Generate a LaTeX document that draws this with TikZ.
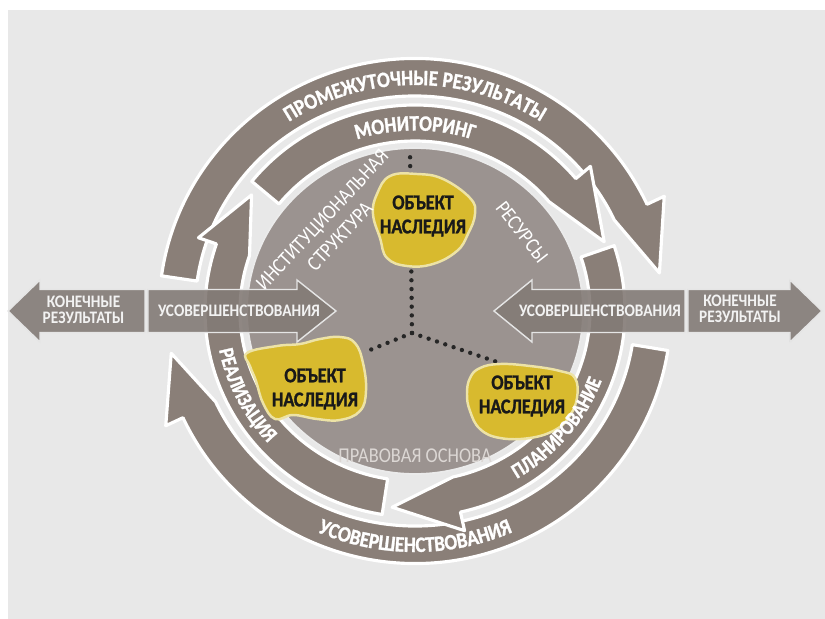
\documentclass[tikz,border=0pt]{standalone}
\usepackage{fontspec}
\setmainfont{Carlito}
\newfontfamily\narrowface{Carlito}[FakeStretch=0.87]
\newfontfamily\heavyface{Carlito}[FakeStretch=0.86, FakeBold=1.2]
\usepackage{tikz}
\usetikzlibrary{decorations.text}
\definecolor{ring1}{HTML}{8A7F78}
\definecolor{disc1}{HTML}{9B9390}
\definecolor{arrow1}{HTML}{837B76}
\definecolor{gold1}{HTML}{D8BA2E}
\definecolor{gold2}{HTML}{EDE3A6}
\definecolor{back1}{HTML}{E8E8E8}
\definecolor{base1}{HTML}{DCD7D4}

\newcommand{\ringfont}{\fontsize{12.5}{14}\heavyface\bfseries\color{white}}
\newcommand{\cyclefont}{\fontsize{12}{14}\heavyface\bfseries\color{white}}

% band of a ring with its head: start, head base, tip, inner x, inner y, outer x, outer y
\newcommand{\ringarrow}[7]{%
  \filldraw[bandarrow] (#1:#4 and #5) arc[start angle=#1, end angle=#2, x radius=#4, y radius=#5]
    -- (#3:{(#4+#6+0.38)/2} and {(#5+#7+0.38)/2})
    -- (#2:{#6+0.38} and {#7+0.38}) -- (#2:#6 and #7)
    arc[start angle=#2, end angle=#1, x radius=#6, y radius=#7] -- cycle;}

\begin{document}
\begin{tikzpicture}[
    bandarrow/.style={fill=ring1, draw=white, line width=1.8pt, line join=round},
    flatarrow/.style={fill=arrow1, fill opacity=0.9, draw=white!90!black, line width=0.8pt},
    blob/.style={fill=gold1, draw=gold2, line width=1.4pt},
    dots/.style={line width=2.5pt, line cap=round, dash pattern=on 0pt off 5pt, black!85},
    objtext/.style={font=\fontsize{12}{13.7}\heavyface\bfseries, align=center, text=black!90},
    disctext/.style={font=\fontsize{12}{13.7}\narrowface, align=center, text=white},
    armtext/.style={font=\fontsize{10}{9.3}\narrowface\bfseries, align=center, text=white!95!black}]

    \useasboundingbox (-8.3,6.22) rectangle (8.2,-6.16);
    \fill[back1] (-8.14,6.02) rectangle (8.2,-6.16);

    % Draw the outer ring
    \ringarrow{172}{25}{9}{4.4}{4.3}{5.12}{5.05}
    \ringarrow{-9}{-155}{-170}{4.4}{4.3}{5.12}{5.05}

    % Draw the middle ring
    \ringarrow{141}{40}{20.5}{3.5}{3.4}{4.2}{4.12}
    \ringarrow{18.5}{-77.5}{-96.5}{3.5}{3.4}{4.2}{4.12}
    \ringarrow{-99}{-199}{-216}{3.5}{3.4}{4.2}{4.12}

    % Draw the disc
    \filldraw[fill=disc1, draw=white!92!black, line width=1pt] (0,0) ellipse (3.36 and 3.26);

    % Dotted spokes
    \coordinate (hub) at (-0.06,-0.44);
    \coordinate (dtop) at (-0.1,3.24);
    \coordinate (dleft) at (-1.0,-0.82);
    \coordinate (dright) at (1.7,-1.04);
    \draw[dots] (hub) -- (dtop);
    \draw[dots] (hub) -- (dleft);
    \draw[dots] (hub) -- (dright);

    % Heritage objects
    \filldraw[blob] plot[smooth cycle, tension=0.7] coordinates {(-0.5,2.7) (0.04,2.74) (0.56,2.64)
      (1.1,2.26) (1.2,1.94) (1.06,1.54) (0.84,1.2) (0.36,0.94) (-0.16,0.9) (-0.56,1.06)
      (-0.7,1.46) (-0.84,1.94) (-0.76,2.34)};
    \filldraw[blob] plot[smooth cycle, tension=0.7] coordinates {(-3.36,-0.84) (-2.76,-0.7)
      (-2.3,-0.66) (-1.9,-0.56) (-1.5,-0.52) (-1.2,-0.64) (-1.04,-1.04) (-0.98,-1.6)
      (-1.1,-2.0) (-1.5,-2.18) (-1.96,-2.16) (-2.44,-2.08) (-2.8,-2.16) (-3.04,-1.84)
      (-3.18,-1.4) (-3.3,-1.1)};
    \filldraw[blob] plot[smooth cycle, tension=0.7] coordinates {(1.1,-1.34) (1.3,-1.14)
      (1.7,-1.06) (2.3,-1.1) (2.9,-1.2) (3.2,-1.34) (3.24,-1.74) (3.08,-2.12) (2.8,-2.38)
      (2.3,-2.54) (1.7,-2.54) (1.3,-2.36) (1.1,-2.0) (1.04,-1.66)};
    \node[objtext] (obj1) at (0.16,1.9) {ОБЪЕКТ\\НАСЛЕДИЯ};
    \node[objtext] (obj2) at (-2.0,-1.56) {ОБЪЕКТ\\НАСЛЕДИЯ};
    \node[objtext] (obj3) at (2.14,-1.7) {ОБЪЕКТ\\НАСЛЕДИЯ};

    % Labels inside the disc
    \node[disctext, rotate=47] (inst) at (-1.68,1.66) {ИНСТИТУЦИОНАЛЬНАЯ\\СТРУКТУРА};
    \node[disctext, rotate=-52] (res) at (2.14,1.58) {РЕСУРСЫ};
    \node[disctext, text=base1] (base) at (0,-2.9) {ПРАВОВАЯ ОСНОВА};

    % Labels along the rings
    \path[decorate, decoration={text along path, text align=center,
        text={|\ringfont|ПРОМЕЖУТОЧНЫЕ РЕЗУЛЬТАТЫ}}]
      (180:4.6 and 4.52) arc[start angle=180, end angle=0, x radius=4.6, y radius=4.52];
    \path[decorate, decoration={text along path, text align=center,
        text={|\ringfont|УСОВЕРШЕНСТВОВАНИЯ}}]
      (180:4.9 and 4.82) arc[start angle=180, end angle=360, x radius=4.9, y radius=4.82];
    \path[decorate, decoration={text along path, text align=center,
        text={|\ringfont|МОНИТОРИНГ}}]
      (180:3.7 and 3.61) arc[start angle=180, end angle=0, x radius=3.7, y radius=3.61];
    \path[decorate, decoration={text along path, text align=center,
        text={|\cyclefont|РЕАЛИЗАЦИЯ}}]
      (177:4.0 and 3.9) arc[start angle=177, end angle=237, x radius=4.0, y radius=3.9];
    \path[decorate, decoration={text along path, text align=center,
        text={|\cyclefont|ПЛАНИРОВАНИЕ}}]
      (-75:4.0 and 3.9) arc[start angle=-75, end angle=-5, x radius=4.0, y radius=3.9];

    % Draw the horizontal arrows
    \filldraw[flatarrow] (-5.4,0.43) -- (-7.5,0.43) -- (-7.5,0.62) -- (-8.14,0)
      -- (-7.5,-0.62) -- (-7.5,-0.43) -- (-5.4,-0.43) -- cycle;
    \filldraw[flatarrow] (-5.34,0.43) -- (-2.36,0.43) -- (-2.36,0.62) -- (-1.58,0)
      -- (-2.36,-0.62) -- (-2.36,-0.43) -- (-5.34,-0.43) -- cycle;
    \filldraw[flatarrow] (5.4,0.43) -- (2.34,0.43) -- (2.34,0.62) -- (1.58,0)
      -- (2.34,-0.62) -- (2.34,-0.43) -- (5.4,-0.43) -- cycle;
    \filldraw[flatarrow] (5.46,0.43) -- (7.5,0.43) -- (7.5,0.62) -- (8.14,0)
      -- (7.5,-0.62) -- (7.5,-0.43) -- (5.46,-0.43) -- cycle;
    \node[armtext] (impl) at (-3.52,0) {УСОВЕРШЕНСТВОВАНИЯ};
    \node[armtext] (impr) at (3.7,0) {УСОВЕРШЕНСТВОВАНИЯ};
    \node[armtext] (resl) at (-6.63,0.02) {КОНЕЧНЫЕ\\РЕЗУЛЬТАТЫ};
    \node[armtext] (resr) at (6.5,0.04) {КОНЕЧНЫЕ\\РЕЗУЛЬТАТЫ};

\end{tikzpicture}
\end{document}
